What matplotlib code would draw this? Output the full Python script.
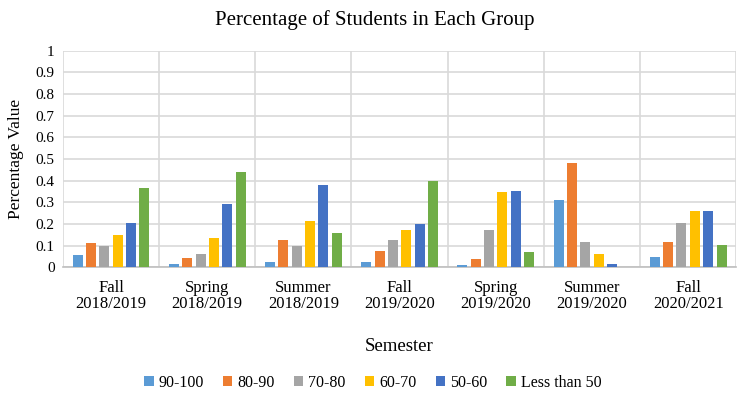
import matplotlib
matplotlib.use("Agg")
import matplotlib.pyplot as plt
import numpy as np

categories = ["Fall\n2018/2019", "Spring\n2018/2019", "Summer\n2018/2019", "Fall\n2019/2020",
              "Spring\n2019/2020", "Summer\n2019/2020", "Fall\n2020/2021"]
series_names = ["90-100", "80-90", "70-80", "60-70", "50-60", "Less than 50"]
s_90_100 = [0.055, 0.014, 0.022, 0.022, 0.008, 0.312, 0.048]
s_80_90 = [0.110, 0.042, 0.124, 0.076, 0.036, 0.482, 0.117]
s_70_80 = [0.097, 0.062, 0.097, 0.124, 0.170, 0.117, 0.204]
s_60_70 = [0.150, 0.136, 0.212, 0.170, 0.346, 0.063, 0.258]
s_50_60 = [0.204, 0.292, 0.380, 0.198, 0.352, 0.015, 0.258]
s_less_50 = [0.366, 0.440, 0.158, 0.400, 0.070, 0.0, 0.102]
series = [s_90_100, s_80_90, s_70_80, s_60_70, s_50_60, s_less_50]
colors = ["#5B9BD5", "#ED7D31", "#A5A5A5", "#FFC000", "#4472C4", "#70AD47"]

plt.rcParams['font.family'] = ['Liberation Serif', 'DejaVu Serif']

fig = plt.figure(figsize=(7.49, 3.94), dpi=100)
ax = fig.add_axes([0.084, 0.322, 0.899, 0.549])

x = np.arange(len(categories))
step = 0.139
width = 0.104
for i, (vals, name, c) in enumerate(zip(series, series_names, colors)):
    ax.bar(x + (i - 2.5) * step, vals, width=width, color=c, label=name, zorder=3)

ax.set_xlim(-0.5, len(categories) - 0.5)
ax.set_ylim(0, 1)
ax.set_yticks(np.arange(0, 1.01, 0.1))
ax.set_yticklabels(["0"] + [f"{v:.1f}" for v in np.arange(0.1, 0.95, 0.1)] + ["1"])
ax.set_xticks(x)
ax.set_xticklabels(categories, fontsize=12, linespacing=1.0)
ax.set_xticks(np.arange(-0.5, len(categories), 1), minor=True)
ax.tick_params(axis='x', which='both', length=0, pad=9)
ax.tick_params(axis='y', length=0, labelsize=11, pad=6)
ax.grid(axis='y', color='#D9D9D9', linewidth=1.2, zorder=0)
ax.grid(axis='x', which='minor', color='#D9D9D9', linewidth=1.2, zorder=0)
ax.grid(axis='x', which='major', visible=False)
for s in ['top', 'right', 'left']:
    ax.spines[s].set_visible(False)
ax.spines['bottom'].set_color('#BFBFBF')
ax.spines['bottom'].set_linewidth(1.2)

ax.set_ylabel("Percentage Value", fontsize=12.5, labelpad=8)
ax.set_xlabel("Semester", fontsize=13.5, labelpad=19)
fig.suptitle("Percentage of Students in Each Group", fontsize=15, y=0.975)

ax.legend(loc='upper center', bbox_to_anchor=(0.46, -0.43), ncol=6, frameon=False,
          fontsize=11.5, handlelength=0.6, handleheight=0.6, handletextpad=0.3, columnspacing=1.2)

fig.savefig("out.png", dpi=100)
